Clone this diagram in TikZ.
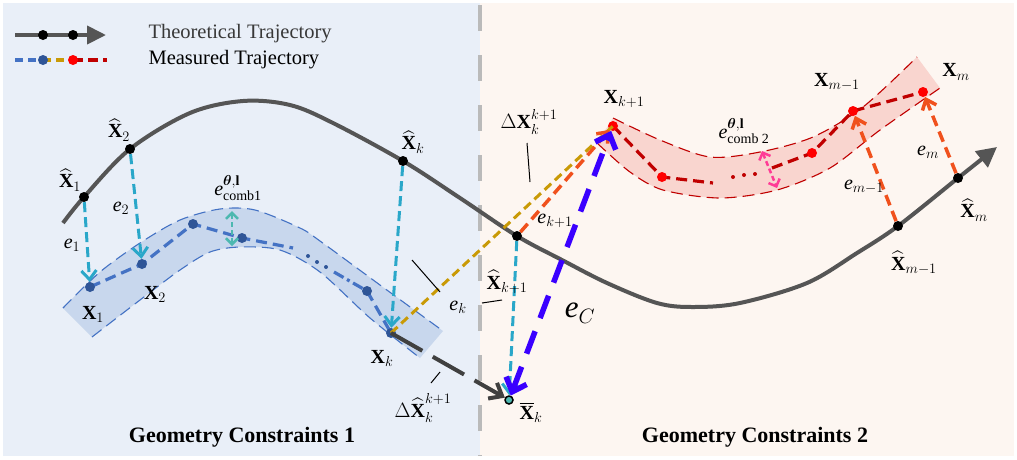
\documentclass[tikz,border=0pt]{standalone}
\usepackage{amsmath,amssymb}
\usepackage{fontspec}
\setmainfont{Liberation Serif}
\usepackage{tikz}
\usetikzlibrary{positioning,arrows.meta}
\usepackage{xcolor}
\definecolor{panelA}{HTML}{E9EFF8}
\definecolor{panelB}{HTML}{FDF6F1}
\definecolor{trajgray}{HTML}{555555}
\definecolor{bandblue}{HTML}{C8D7ED}
\definecolor{edgeblue}{HTML}{4472C4}
\definecolor{ptblue}{HTML}{2F5597}
\definecolor{errcyan}{HTML}{2AA7C9}
\definecolor{combteal}{HTML}{4DB8B0}
\definecolor{bandred}{HTML}{F9D5CF}
\definecolor{edgered}{HTML}{C00000}
\definecolor{errorange}{HTML}{F0511D}
\definecolor{gold}{HTML}{C99A06}
\definecolor{ecblue}{HTML}{3A00FF}
\definecolor{combpink}{HTML}{FF3C96}
\newcommand{\vX}{\textbf{X}}
\newcommand{\ve}{\textit{e}}

\begin{document}
\begin{tikzpicture}[x=1pt,y=-1pt,
  tdot/.style={circle,fill=black,inner sep=0pt,minimum size=10pt},
  bdot/.style={circle,fill=ptblue,inner sep=0pt,minimum size=10pt},
  rdot/.style={circle,fill=red,inner sep=0pt,minimum size=10pt},
  sdot/.style={circle,fill=#1,inner sep=0pt,minimum size=4pt},
  lab/.style={inner sep=0pt,font=\fontsize{20}{22}\selectfont},
  traj/.style={trajgray,line width=4pt},
  barb/.style={-{Straight Barb[length=9pt,width=15pt]}},
  errcy/.style={errcyan,line width=3pt,dash pattern=on 10pt off 5pt,barb},
  error/.style={errorange,line width=3.5pt,dash pattern=on 11pt off 6pt,barb},
  bandedge/.style={line width=1.1pt,dash pattern=on 12pt off 6pt},
  meas/.style={line width=3.2pt,dash pattern=on 11pt off 6pt},
  leader/.style={black,line width=1pt}]
\useasboundingbox (0,0) rectangle (1017,459);
% panels
\fill[panelA] (3,3) rectangle (480,456);
\fill[panelB] (480,3) rectangle (1014,456);
\draw[black!27,line width=4pt,dash pattern=on 26pt off 24pt] (480,5) -- (480,456);

% legend
\coordinate (lt0) at (15,35);
\coordinate (lt1) at (43,35);
\coordinate (lt2) at (73,35);
\coordinate (lt3) at (106,35);
\draw[traj,-{Triangle[length=19pt,width=18pt]}] (lt0) -- (lt3);
\node[tdot] (ltA) at (lt1) {};
\node[tdot] (ltB) at (lt2) {};
\node[anchor=west,text=black!78,font=\fontsize{20.5}{23}\selectfont] (ltxt) at (145,34) {Theoretical Trajectory};
\coordinate (lm0) at (15,60);
\coordinate (lm1) at (43,60);
\coordinate (lm2) at (73,60);
\coordinate (lm3) at (107,60);
\draw[edgeblue,meas,dash pattern=on 8pt off 5pt] (lm0) -- (lm1);
\draw[gold,meas,dash pattern=on 8pt off 5pt] (lm1) -- (lm2);
\draw[edgered,meas,dash pattern=on 10pt off 5pt] (lm2) -- (lm3);
\node[bdot] (lmA) at (lm1) {};
\node[rdot] (lmB) at (lm2) {};
\node[anchor=west,font=\fontsize{20.5}{23}\selectfont] (lmtxt) at (145,60) {Measured Trajectory};

% band 1
\fill[bandblue] plot[smooth] coordinates {(63,308) (100,272) (140,243) (180,220) (220,209) (255,210) (300,228) (320,241) (380,285) (443,331)}
  -- plot[smooth] coordinates {(420,358) (370,318) (320,272) (280,250) (240,247) (210,252) (180,270) (140,300) (92,337)} -- cycle;
\draw[edgeblue,bandedge] plot[smooth] coordinates {(63,308) (100,272) (140,243) (180,220) (220,209) (255,210) (300,228) (320,241) (380,285) (443,331)};
\draw[edgeblue,bandedge] plot[smooth] coordinates {(92,337) (140,300) (180,270) (210,252) (240,247) (280,250) (320,272) (370,318) (420,358)};

% band 2
\fill[bandred] plot[smooth] coordinates {(613,118) (660,140) (710,157) (760,152) (813,137) (863,107) (917,57)}
  -- plot[smooth] coordinates {(940,88) (880,130) (830,168) (777,190) (720,198) (663,190) (630,172) (597,143)} -- cycle;
\draw[edgered,bandedge] plot[smooth] coordinates {(613,118) (660,140) (710,157) (760,152) (813,137) (863,107) (917,57)};
\draw[edgered,bandedge] plot[smooth] coordinates {(597,143) (630,172) (663,190) (720,198) (777,190) (830,168) (880,130) (940,88)};

% theoretical trajectory
\draw[traj,-{Triangle[length=20pt,width=20pt]}] plot[smooth,tension=0.55] coordinates {(63,223) (84,197) (130,149) (190,113) (243,101) (290,105) (333,123) (403,161) (460,198) (517,236) (562,260) (607,283) (657,303) (693,307) (740,303) (807,283) (857,253) (898,226) (958,178) (997,147)};

% measured points
\coordinate (p3) at (193,224);
\coordinate (p4) at (242,238);
\coordinate (p4e) at (293,248);
\coordinate (p5s) at (334,272);
\coordinate (p5) at (367,291);
\coordinate (r2) at (662,177);
\coordinate (r2e) at (713,183);
\coordinate (r3s) at (772,168);
\coordinate (r3) at (812,153);
\draw[edgeblue,meas] (90,287) -- (142,264) -- (p3) -- (p4) -- (p4e);
\draw[edgeblue,line width=3.2pt,dash pattern=on 11pt off 4pt on 3pt off 4pt] (p5s) -- (p5);
\draw[edgeblue,meas] (p5) -- (391,333);
\draw[edgered,meas] (613,126) -- (r2) -- (r2e);
\draw[edgered,meas] (r3s) -- (r3) -- (853,111) -- (923,92);

\node[tdot] (h1) at (84,197) {};
\node[tdot] (h2) at (130,149) {};
\node[tdot] (hk) at (403,161) {};
\node[tdot] (hk1) at (517,236) {};
\node[tdot] (hm1) at (898,226) {};
\node[tdot] (hm) at (958,178) {};
\node[bdot] (x1) at (90,287) {};
\node[bdot] (x2) at (142,264) {};
\node[bdot] (b3) at (p3) {};
\node[bdot] (b4) at (p4) {};
\node[bdot] (b5) at (p5) {};
\node[bdot] (xk) at (391,333) {};
\node[rdot] (xk1) at (613,126) {};
\node[rdot] (c2) at (r2) {};
\node[rdot] (c3) at (r3) {};
\node[rdot] (xm1) at (853,111) {};
\node[rdot] (xm) at (923,92) {};
\node[circle,draw=black,fill=combteal,line width=1.5pt,inner sep=0pt,minimum size=8pt] (xbar) at (509,400) {};
\foreach \px/\py [count=\i] in {308/256,317/262,326/267} \node[sdot=ptblue] (bd\i) at (\px,\py) {};
\foreach \px/\py [count=\i] in {733/177,744/175,755/174} \node[sdot=edgered] (rd\i) at (\px,\py) {};

% errors
\draw[gold,line width=3pt,dash pattern=on 9pt off 5pt] (xk.center) -- (xk1.center);
\draw[errcy] (h1) -- (x1);
\draw[errcy] (h2) -- (x2);
\draw[errcy] (hk) -- (xk);
\draw[errcy] (hk1) -- (xbar);
\draw[error] (hk1) -- (xk1);
\draw[error] (hm1) -- (xm1);
\draw[error] (hm) -- (xm);
\draw[black!75,line width=4pt,dash pattern=on 36pt off 12pt,-{Straight Barb[length=11pt,width=18pt]}] (xk.center) -- (xbar);
\draw[ecblue,line width=5.5pt,dash pattern=on 24pt off 14pt,{Straight Barb[length=12pt,width=22pt]}-{Straight Barb[length=12pt,width=22pt]}] (xbar) -- (xk1);
\draw[combteal,line width=2.5pt,dash pattern=on 5pt off 3pt,{Straight Barb[length=6pt,width=12pt]}-{Straight Barb[length=6pt,width=12pt]}] (232,211) -- (232,246);
\draw[combpink,line width=2.5pt,dash pattern=on 5pt off 3pt,{Straight Barb[length=6pt,width=12pt]}-{Straight Barb[length=6pt,width=12pt]}] (762,151) -- (777,188);

% leaders
\draw[leader] (412,260) -- (440,292);
\draw[leader] (482,303) -- (502,300);
\draw[leader] (431,383) -- (440,372);
\draw[leader] (527,143) -- (530,182);

% labels
\node[lab] (lh1) at (70,180) {$\widehat{\vX}_{1}$};
\node[lab] (lh2) at (119,130) {$\widehat{\vX}_{2}$};
\node[lab] (lhk) at (413,142) {$\widehat{\vX}_{k}$};
\node[lab] (lhk1) at (507,282) {$\widehat{\vX}_{k+1}$};
\node[lab] (lhm1) at (914,263) {$\widehat{\vX}_{m-1}$};
\node[lab] (lhm) at (974,210) {$\widehat{\vX}_{m}$};
\node[lab] (lx1) at (93,314) {$\vX_{1}$};
\node[lab] (lx2) at (155,294) {$\vX_{2}$};
\node[lab] (lxk) at (382,358) {$\vX_{k}$};
\node[lab] (lxk1) at (624,99) {$\vX_{k+1}$};
\node[lab] (lxm1) at (837,82) {$\vX_{m-1}$};
\node[lab] (lxm) at (956,72) {$\vX_{m}$};
\node[lab] (lxbar) at (531,412) {$\overline{\vX}_{k}$};
\node[lab] (ldX) at (529,122) {$\Delta\vX_{k}^{k+1}$};
\node[lab] (ldXh) at (423,408) {$\Delta\widehat{\vX}_{k}^{k+1}$};
\node[lab] (le1) at (72,245) {$\ve_{1}$};
\node[lab] (le2) at (121,208) {$\ve_{2}$};
\node[lab] (lek) at (458,307) {$\ve_{k}$};
\node[lab] (lek1) at (555,221) {$\ve_{k+1}$};
\node[lab] (lem1) at (864,187) {$\ve_{m-1}$};
\node[lab] (lem) at (928,152) {$\ve_{m}$};
\node[lab] (lc1) at (238,188) {$\ve^{\boldsymbol{\theta},\textbf{l}}_{\text{comb1}}$};
\node[lab] (lc2) at (744,131) {$\ve^{\boldsymbol{\theta},\textbf{l}}_{\text{comb 2}}$};
\node[inner sep=0pt,font=\fontsize{31}{33}\selectfont] (leC) at (580,313) {$\ve_{C}$};
\node[font=\bfseries\fontsize{22}{26}\selectfont] (gc1) at (242,437) {Geometry Constraints 1};
\node[font=\bfseries\fontsize{22}{26}\selectfont] (gc2) at (755,437) {Geometry Constraints 2};
\end{tikzpicture}
\end{document}
